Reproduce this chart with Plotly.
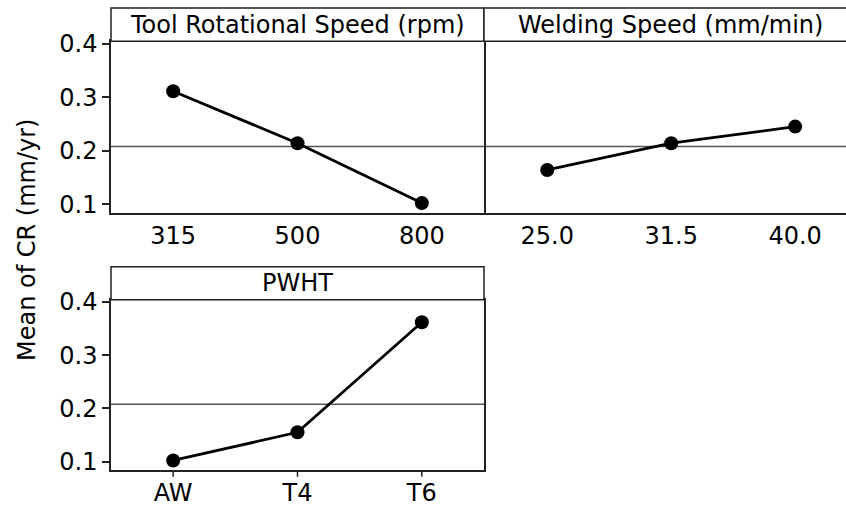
import plotly.graph_objects as go

# ---- data ----
speed_levels = ["315", "500", "800"]
speed_means = [0.311, 0.214, 0.102]
weld_levels = ["25.0", "31.5", "40.0"]
weld_means = [0.164, 0.214, 0.245]
pwht_levels = ["AW", "T4", "T6"]
pwht_means = [0.102, 0.155, 0.362]
panel_titles = ["Tool Rotational Speed (rpm)", "Welding Speed (mm/min)", "PWHT"]
y_ticks = [0.1, 0.2, 0.3, 0.4]
y_title = "Mean of CR (mm/yr)"

grand_mean = (sum(speed_means) + sum(weld_means) + sum(pwht_means)) / 9.0

W, H = 846, 506
FONT = "DejaVu Sans"

def px_x(p):
    return p / W

def px_y(p):
    return (H - p) / H

fig = go.Figure()

series = [
    (speed_levels, speed_means, "x", "y"),
    (weld_levels, weld_means, "x2", "y2"),
    (pwht_levels, pwht_means, "x3", "y3"),
]
for cats, vals, xa, ya in series:
    fig.add_trace(go.Scatter(
        x=cats, y=vals, xaxis=xa, yaxis=ya, mode="lines+markers",
        line=dict(color="black", width=2.8),
        marker=dict(color="black", size=14),
        showlegend=False, hoverinfo="skip",
    ))

yr = [0.0835, 0.4045]
axis_common = dict(
    showline=True, linecolor="#222", linewidth=1.5,
    ticks="outside", tickcolor="#222", ticklen=7, tickwidth=1.5,
    showgrid=False, zeroline=False, automargin=False,
    tickfont=dict(family=FONT, size=24, color="black"),
)
xaxis_common = dict(axis_common, ticks="", ticklabelstandoff=0)

TOP_BOTTOM, TOP_TOP = 213, 41.3
BOT_BOTTOM, BOT_TOP = 470.3, 299.7
top_y = [px_y(TOP_BOTTOM), px_y(TOP_TOP)]
bot_y = [px_y(BOT_BOTTOM), px_y(BOT_TOP)]

fig.update_layout(
    template="none",
    width=W, height=H, autosize=False,
    margin=dict(l=0, r=0, t=0, b=0, pad=0),
    paper_bgcolor="white", plot_bgcolor="white",
    xaxis=dict(domain=[px_x(111), px_x(484)], type="category", range=[-0.5, 2.5],
               mirror=True, anchor="y", **xaxis_common),
    yaxis=dict(domain=top_y, range=yr, tickvals=y_ticks, ticktext=[f"{v:.1f}" for v in y_ticks],
               mirror=True, anchor="x", **axis_common),
    xaxis2=dict(domain=[px_x(484), 1.0], type="category", range=[-0.51, 2.41],
                mirror=True, anchor="y2", **xaxis_common),
    yaxis2=dict(domain=top_y, range=yr, tickvals=y_ticks, showticklabels=False,
                anchor="x2", visible=False),
    xaxis3=dict(domain=[px_x(111), px_x(484)], type="category", range=[-0.5, 2.5],
                mirror=True, anchor="y3", **xaxis_common),
    yaxis3=dict(domain=bot_y, range=yr, tickvals=y_ticks, ticktext=[f"{v:.1f}" for v in y_ticks],
                mirror=True, anchor="x3", **axis_common),
)

shapes = []
annotations = []
strips = [
    (px_x(111), px_x(484), px_y(TOP_TOP), px_y(8), panel_titles[0]),
    (px_x(484), 1.05, px_y(TOP_TOP), px_y(8), panel_titles[1]),
    (px_x(111), px_x(484), px_y(BOT_TOP), px_y(266.7), panel_titles[2]),
]
for i, (x0, x1, y0, y1, t) in enumerate(strips):
    shapes.append(dict(type="rect", xref="paper", yref="paper", x0=x0, x1=x1, y0=y0, y1=y1,
                       line=dict(color="#222", width=1.5), fillcolor="white", layer="above"))
    cx = (x0 + x1) / 2 if i != 1 else px_x(484 + 186)
    annotations.append(dict(text=t, xref="paper", yref="paper", x=cx, y=(y0 + y1) / 2,
                            xanchor="center", yanchor="middle", showarrow=False,
                            font=dict(family=FONT, size=24, color="black")))

# grand mean reference lines
for xa, ya in [("x", "y"), ("x2", "y2"), ("x3", "y3")]:
    shapes.append(dict(type="line", xref=f"{xa} domain", yref=ya, x0=0, x1=1,
                       y0=grand_mean, y1=grand_mean, line=dict(color="#555", width=1.5),
                       layer="below"))

# x tick marks at each category (x from the axis, y in paper space so they are not clipped)
bottoms = {"x": TOP_BOTTOM, "x2": TOP_BOTTOM, "x3": BOT_BOTTOM}
for (cats, _, xa, ya) in series:
    b = bottoms[xa]
    for c in cats:
        shapes.append(dict(type="line", xref=xa, yref="paper", x0=c, x1=c,
                           y0=px_y(b), y1=px_y(b + 6.5), line=dict(color="#222", width=1.5)))

annotations.append(dict(text=y_title, xref="paper", yref="paper", x=px_x(27), y=px_y(240),
                        xanchor="center", yanchor="middle", textangle=-90, showarrow=False,
                        font=dict(family=FONT, size=24, color="black")))

fig.update_layout(shapes=shapes, annotations=annotations)
fig.write_html("out.html")
